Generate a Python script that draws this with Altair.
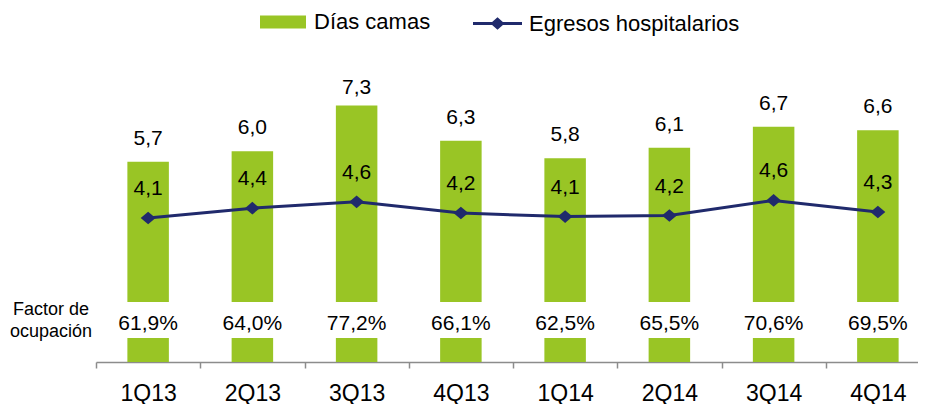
import altair as alt
import pandas as pd

quarters = ["1Q13", "2Q13", "3Q13", "4Q13", "1Q14", "2Q14", "3Q14", "4Q14"]
dias_camas = [5.7, 6.0, 7.3, 6.3, 5.8, 6.1, 6.7, 6.6]
egresos = [4.10, 4.38, 4.56, 4.24, 4.14, 4.17, 4.60, 4.27]
factor_ocupacion = [61.9, 64.0, 77.2, 66.1, 62.5, 65.5, 70.6, 69.5]
serie_barras = "Días camas"
serie_linea = "Egresos hospitalarios"
factor_titulo = "Factor de\nocupación"

GREEN = "#99C525"
NAVY = "#202A6C"
GRAY = "#8C8C8C"
FONT = "Liberation Sans"


def coma(v, d=1):
    return f"{v:.{d}f}".replace(".", ",")


df = pd.DataFrame({
    "q": quarters,
    "dias": dias_camas,
    "egr": egresos,
    "fac": factor_ocupacion,
})
df["dias_lbl"] = [coma(v) for v in dias_camas]
df["egr_lbl"] = [coma(v) for v in egresos]
df["fac_lbl"] = [coma(v) + "%" for v in factor_ocupacion]
df["serie_b"] = serie_barras
df["serie_l"] = serie_linea

W = 822
H = 281
XR = 834

xenc = alt.X(
    "q:N", sort=quarters,
    scale=alt.Scale(range=[0, XR], paddingInner=0, paddingOuter=0),
    axis=alt.Axis(title=None, labelAngle=0, tickBand="extent", grid=False,
                  domainColor=GRAY, tickColor=GRAY, domainWidth=1.5, tickWidth=1.5,
                  tickSize=6, labelPadding=14, labelFontSize=23, labelColor="black",
                  labelFont=FONT),
)
yscale = alt.Scale(domain=[0, 8], nice=False, zero=True)

base = alt.Chart(df).encode(x=xenc)

bars = base.mark_bar(size=41.5).encode(
    y=alt.Y("dias:Q", scale=yscale, axis=None),
    color=alt.Color("serie_b:N", scale=alt.Scale(domain=[serie_barras], range=[GREEN]),
                    legend=alt.Legend(title=None, orient="none", legendX=164, legendY=-82,
                                      symbolType="M-1,-0.28H1V0.28H-1Z", symbolSize=2116,
                                      symbolStrokeWidth=0, labelFontSize=22, labelOffset=8,
                                      labelColor="black", labelFont=FONT, labelLimit=400,
                                      padding=0)),
)

band = alt.Chart(df).mark_rect(color="white").encode(
    x=alt.value(0), x2=alt.value(XR), y=alt.value(221), y2=alt.value(257)
)

line = base.mark_line(color=NAVY, strokeWidth=3).encode(
    y=alt.Y("egr:Q", scale=yscale, axis=None)
)

points = base.mark_point(filled=True, opacity=1, shape="M-1,0L0,-0.85L1,0L0,0.85Z",
                         size=220).encode(
    y=alt.Y("egr:Q", scale=yscale, axis=None),
    color=alt.Color("serie_l:N", scale=alt.Scale(domain=[serie_linea], range=[NAVY]),
                    legend=alt.Legend(title=None, orient="none", legendX=377, legendY=-82,
                                      symbolType="M-1,-0.06H-0.22L0,-0.26L0.22,-0.06H1V0.06H0.22L0,0.26L-0.22,0.06H-1Z",
                                      symbolSize=2401, symbolStrokeWidth=0,
                                      labelFontSize=22, labelOffset=7,
                                      labelColor="black", labelFont=FONT, labelLimit=400,
                                      padding=0)),
)

bar_text = base.transform_calculate(ylab="min(datum.dias, 7.15)").mark_text(
    fontSize=21, baseline="middle", align="center", dy=-23, color="black"
).encode(y=alt.Y("ylab:Q", scale=yscale, axis=None), text="dias_lbl:N")

line_text = base.mark_text(
    fontSize=21, baseline="middle", align="center", dy=-29, color="black"
).encode(y=alt.Y("egr:Q", scale=yscale, axis=None), text="egr_lbl:N")

fac_text = base.mark_text(
    fontSize=21, baseline="middle", align="center", color="black"
).encode(y=alt.value(243), text="fac_lbl:N")

title_df = pd.DataFrame({"t": [factor_titulo]})
fac_title = alt.Chart(title_df).mark_text(
    fontSize=18, baseline="middle", align="center", lineBreak="\n", lineHeight=22,
    color="black"
).encode(x=alt.value(-45), y=alt.value(229), text="t:N")

chart = alt.layer(
    bars, band, line, points, bar_text, line_text, fac_text, fac_title
).resolve_scale(color="independent").properties(
    width=W, height=H,
    autosize=alt.AutoSizeParams(type="none"),
    padding={"left": 88, "top": 73, "right": 0, "bottom": 42},
).configure(font=FONT).configure_view(stroke=None)

chart.save("out.html", embed_options={"renderer": "svg", "actions": False})
